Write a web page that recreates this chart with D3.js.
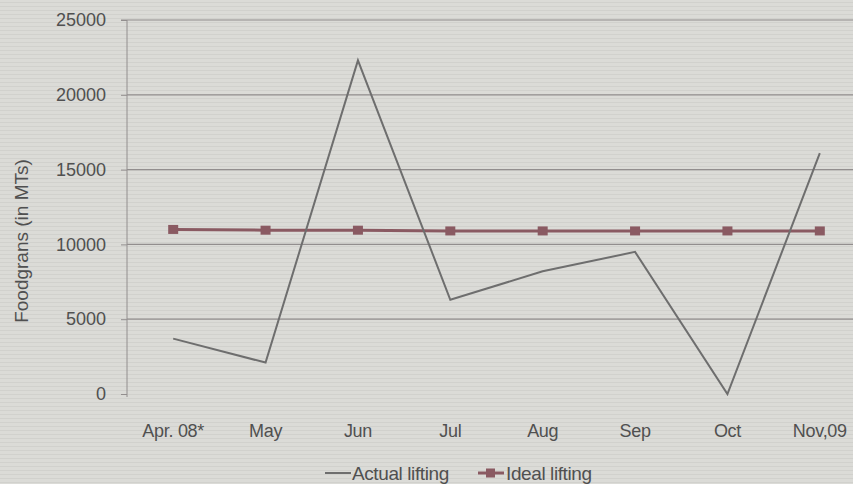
<!DOCTYPE html>
<style>
  body { margin: 0; background: #d9d9d5; }
  text { font-family: "Liberation Sans", Arial, sans-serif; fill: #505050; }
</style>
<body>
</body>
<script src="https://cdn.jsdelivr.net/npm/d3@7/dist/d3.min.js"></script>
<script>
  const months = ['Apr. 08*', 'May', 'Jun', 'Jul', 'Aug', 'Sep', 'Oct', 'Nov,09'];
  const actual = [3700, 2100, 22300, 6300, 8200, 9500, 0, 16100];
  const ideal = [11000, 10950, 10950, 10900, 10900, 10900, 10900, 10900];
  const yTicks = [0, 5000, 10000, 15000, 20000, 25000];

  const w = 853, h = 484;
  const l = 127, r = 866, t = 20, b = 394;

  const svg = d3.select('body').append('svg')
    .attr('width', w)
    .attr('height', h);

  // scan-line look of the original
  const pat = svg.append('defs').append('pattern')
    .attr('id', 'scan').attr('width', 8).attr('height', 4)
    .attr('patternUnits', 'userSpaceOnUse');
  pat.append('rect').attr('width', 8).attr('height', 4).attr('fill', '#dbdbd7');
  pat.append('rect').attr('y', 2).attr('width', 8).attr('height', 1).attr('fill', '#d1d1cd');
  svg.append('rect').attr('width', w).attr('height', h).attr('fill', 'url(#scan)');

  const x = d3.scaleBand().domain(months).range([l, r]);
  const y = d3.scaleLinear().domain([0, 25000]).range([b, t]);
  const cx = d => x(d) + x.bandwidth() / 2;

  // gridlines
  svg.append('g')
    .selectAll('line')
    .data(yTicks.filter(d => d > 0))
    .join('line')
      .attr('x1', l).attr('x2', w)
      .attr('y1', d => y(d)).attr('y2', d => y(d))
      .attr('stroke', '#928e8e')
      .attr('stroke-width', 1.2);

  const yAxis = svg.append('g')
    .attr('transform', `translate(${l}, 0)`)
    .call(d3.axisLeft(y).tickValues(yTicks).tickSize(6).tickPadding(15).tickFormat(d3.format('d')));
  yAxis.select('.domain').attr('stroke', '#928e8e').attr('d', `M-6,${t}H0V${b + 3}`);
  yAxis.selectAll('.tick line').attr('stroke', '#928e8e');
  yAxis.selectAll('.tick text').attr('font-size', 18).style('fill', '#505050');

  const xAxis = svg.append('g')
    .attr('transform', `translate(0, ${b})`)
    .call(d3.axisBottom(x).tickSize(0).tickPadding(30));
  xAxis.select('.domain').remove();
  xAxis.selectAll('.tick text').attr('font-size', 18).attr('letter-spacing', -0.3).style('fill', '#505050');

  svg.append('text')
    .attr('transform', `translate(28, ${(t + b) / 2 + 34}) rotate(-90)`)
    .attr('text-anchor', 'middle')
    .attr('font-size', 19)
    .text('Foodgrans (in MTs)');

  const line = d3.line().x((d, i) => cx(months[i])).y(d => y(d));

  svg.append('path')
    .attr('d', line(ideal))
    .attr('fill', 'none')
    .attr('stroke', '#8a5a62')
    .attr('stroke-width', 3);
  svg.append('g')
    .selectAll('rect')
    .data(ideal)
    .join('rect')
      .attr('x', (d, i) => cx(months[i]) - 5)
      .attr('y', d => y(d) - 4.5)
      .attr('width', 10).attr('height', 9)
      .attr('fill', '#8a5a62');

  svg.append('path')
    .attr('d', line(actual))
    .attr('fill', 'none')
    .attr('stroke', '#6e6e6e')
    .attr('stroke-width', 2);

  // legend
  const lg = svg.append('g').attr('transform', 'translate(0, 473)');
  lg.append('line').attr('x1', 325).attr('x2', 351).attr('y1', 0).attr('y2', 0)
    .attr('stroke', '#6e6e6e').attr('stroke-width', 2);
  lg.append('text').attr('x', 352).attr('y', 7).attr('font-size', 19).attr('letter-spacing', -0.4).text('Actual lifting');
  lg.append('line').attr('x1', 478).attr('x2', 504).attr('y1', 0).attr('y2', 0)
    .attr('stroke', '#8a5a62').attr('stroke-width', 3);
  lg.append('rect').attr('x', 486).attr('y', -4.5).attr('width', 9).attr('height', 9).attr('fill', '#8a5a62');
  lg.append('text').attr('x', 506).attr('y', 7).attr('font-size', 19).attr('letter-spacing', -0.4).text('Ideal lifting');
</script>
